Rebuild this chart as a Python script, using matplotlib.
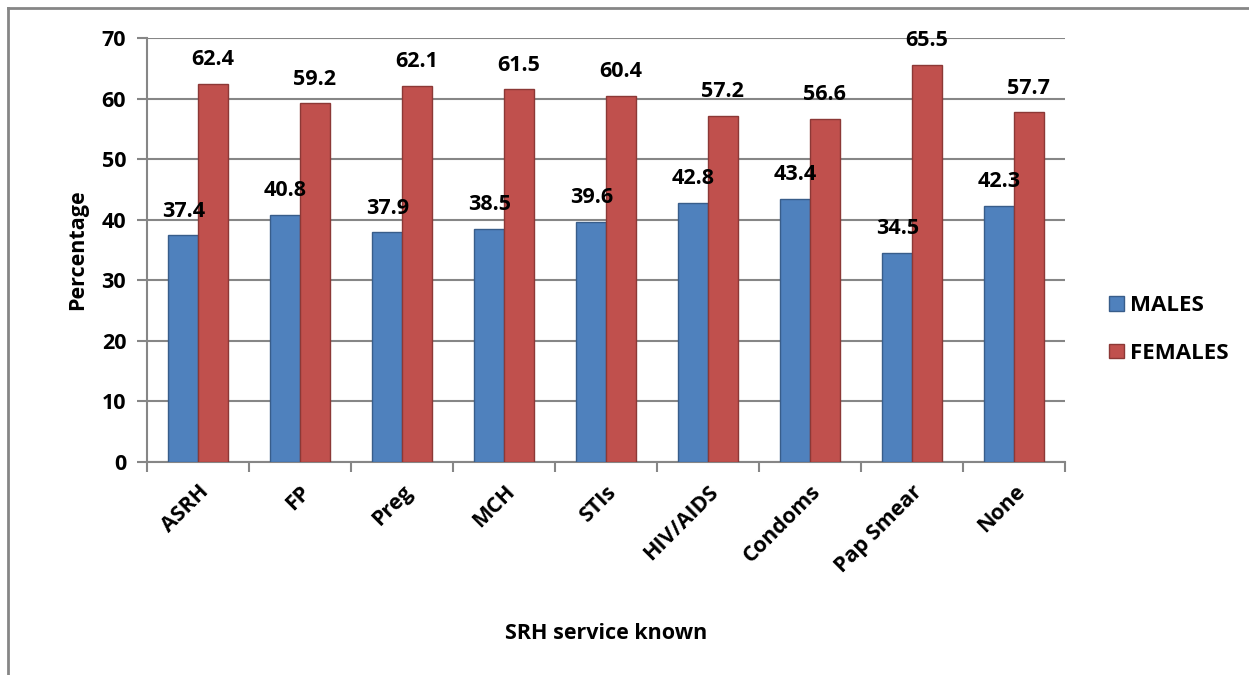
import numpy as np
import matplotlib.pyplot as plt
from matplotlib.lines import Line2D

categories = ['ASRH', 'FP', 'Preg', 'MCH', 'STIs', 'HIV/AIDS', 'Condoms', 'Pap Smear', 'None']
males = [37.4, 40.8, 37.9, 38.5, 39.6, 42.8, 43.4, 34.5, 42.3]
females = [62.4, 59.2, 62.1, 61.5, 60.4, 57.2, 56.6, 65.5, 57.7]

plt.rcParams['font.family'] = ['Open Sans', 'DejaVu Sans']
plt.rcParams['font.weight'] = 'bold'

fig = plt.figure(figsize=(12.49, 6.75), dpi=100)
ax = fig.add_axes([0.1177, 0.3156, 0.7350, 0.6281])

x = np.arange(len(categories))
w = 0.29
b1 = ax.bar(x - w / 2, males, w, color='#4F81BD', edgecolor='#385D8A', linewidth=1, label='MALES', zorder=3)
b2 = ax.bar(x + w / 2, females, w, color='#C0504D', edgecolor='#8C3836', linewidth=1, label='FEMALES', zorder=3)

# value labels above each bar
for bars, vals in ((b1, males), (b2, females)):
    for r, v in zip(bars, vals):
        ax.annotate(f'{v}', (r.get_x() + r.get_width() / 2, v), xytext=(0, 10),
                    textcoords='offset points', ha='center', va='bottom',
                    fontsize=15.5, fontweight='bold')

ax.set_xlim(-0.5, len(categories) - 0.5)
ax.set_ylim(0, 70)
ax.set_yticks(range(0, 71, 10))
ax.yaxis.grid(True, color='#868686', linewidth=1.5, zorder=0)
ax.set_axisbelow(True)

ax.set_xticks(x)
ax.set_xticklabels(categories, rotation=45, ha='right', rotation_mode='anchor', fontsize=15.5, fontweight='bold')
ax.tick_params(axis='x', which='major', length=0, pad=14)
ax.set_xticks(np.arange(-0.5, len(categories), 1), minor=True)
ax.tick_params(axis='x', which='minor', length=7, width=1.5, color='#868686', direction='out')
ax.tick_params(axis='y', length=7, width=1.5, color='#868686', labelsize=15.5, pad=8)
for lab in ax.get_yticklabels():
    lab.set_fontweight('bold')

for s in ('top', 'right'):
    ax.spines[s].set_visible(False)
for s in ('left', 'bottom'):
    ax.spines[s].set_color('#868686')
    ax.spines[s].set_linewidth(1.5)

ax.set_ylabel('Percentage', fontsize=15.5, fontweight='bold', labelpad=10)
ax.set_xlabel('SRH service known', fontsize=15.5, fontweight='bold', labelpad=33)

fig.legend(handles=[b1, b2], loc='center left', bbox_to_anchor=(0.872, 0.512), frameon=False,
           fontsize=16, handlelength=0.65, handleheight=0.65, handletextpad=0.3, labelspacing=1.2)

# outer chart frame
fig.add_artist(Line2D([0.0064, 0.0064], [0, 0.988], color='#868686', linewidth=2, transform=fig.transFigure))
fig.add_artist(Line2D([0.0064, 1.0], [0.988, 0.988], color='#868686', linewidth=2, transform=fig.transFigure))

fig.savefig('out.png', dpi=100, facecolor='white')
